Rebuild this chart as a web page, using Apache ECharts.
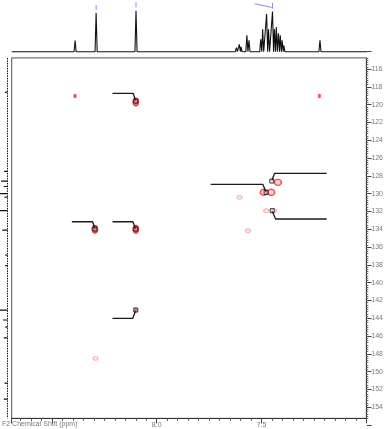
<!DOCTYPE html>
<html><head><meta charset="utf-8">
<script src="https://cdn.jsdelivr.net/npm/echarts@6/dist/echarts.min.js"></script>
<style>html,body{margin:0;padding:0;background:#fff}#c{width:386px;height:429px}</style>
</head><body><div id="c"></div>
<script>
// ---- data (ppm values) ----
const xTickLabels = ['8.0', '7.5'];
const yTickLabels = [116,118,120,122,124,126,128,130,132,134,136,138,140,142,144,146,148,150,152,154];
const xTitle = 'F2 Chemical Shift (ppm)';

// 1H spectrum peaks: [ppm, relative height]
const protonPeaks = [
  [8.390,0.27],[8.290,0.95],[8.100,1.00],
  [7.622,0.10],[7.608,0.18],[7.600,0.12],[7.572,0.40],[7.562,0.28],
  [7.506,0.30],[7.497,0.55],[7.478,0.92],[7.469,0.55],[7.450,0.98],
  [7.441,0.55],[7.432,0.60],[7.422,0.45],[7.413,0.40],[7.404,0.28],[7.396,0.15],
  [7.224,0.28]
];
// peak-label marker ticks above the 1H trace: [ppm1, h1, ppm2, h2]
const protonMarks = [
  [8.290,1.14,8.290,1.02],[8.100,1.21,8.100,1.08],[7.450,1.19,7.450,1.05],[7.535,1.17,7.454,1.08]
];
// 13C projection peaks: [ppm, relative intensity]
const carbonProjection = [
  [118.6,0.35],[127.5,0.45],[128.6,0.85],[129.2,0.5],[130.0,1.0],[130.4,0.4],
  [131.9,1.0],[134.1,0.7],[136.9,0.3],[138.1,0.3],[143.1,1.0],[144.2,0.6],
  [145.0,0.3],[146.2,0.5],[151.3,0.4],[153.1,0.5]
];
// cross peaks [δH, δC]
const strongPeaks = [[8.100,119.71],[8.295,134.01],[8.100,134.01]];
const ringPeaks = [[7.422,128.73],[7.489,129.85],[7.454,129.85]];
const weakPeaks = [[8.390,119.03],[7.224,119.03],[8.100,143.08]];
const faintPeaks = [[7.478,131.92],[7.441,131.92],[7.605,130.42],[7.565,134.17],[8.292,148.51]];
// assignment boxes [δH, δC]
const assignments = [[8.100,119.6],[8.295,133.98],[8.100,133.98],[8.100,143.08],[7.451,128.58],[7.478,129.85],[7.449,131.92]];
// assignment leader lines, each a list of [δH, δC]
const leaders = [
  [[8.211,118.73],[8.113,118.73],[8.100,119.6]],
  [[8.405,133.16],[8.306,133.16],[8.295,133.98]],
  [[8.211,133.16],[8.114,133.16],[8.100,133.98]],
  [[8.211,144.01],[8.114,144.01],[8.100,143.08]],
  [[7.189,127.72],[7.438,127.72],[7.451,128.58]],
  [[7.743,128.96],[7.494,128.96],[7.478,129.85]],
  [[7.189,132.85],[7.433,132.85],[7.449,131.96]]
];

// ---- build ----
const X_MIN = 7.0, X_MAX = 8.692, Y_MIN = 114.75, Y_MAX = 155.25;
const HW = 0.005;
const protonLine = [[X_MAX,0]];
protonPeaks.slice().sort((a,b)=>b[0]-a[0]).forEach(p=>{
  protonLine.push([p[0]+HW,0],[p[0],p[1]],[p[0]-HW,0]);
});
protonLine.push([X_MIN,0]);
const markLine = [];
protonMarks.forEach(m=>{ markLine.push([m[0],m[1]],[m[2],m[3]],'-'); });
const projLine = [];
carbonProjection.forEach(p=>{ projLine.push([0,p[0]],[p[1],p[0]],'-'); });
const leaderLine = [];
leaders.forEach(l=>{ l.forEach(pt=>leaderLine.push(pt)); leaderLine.push('-'); });

const FONT = 'Liberation Sans, Arial, sans-serif';
const LBL = '#7a7a7a';
const chart = echarts.init(document.getElementById('c'), null, {renderer:'canvas'});
chart.setOption({
  animation: false,
  backgroundColor: '#fff',
  grid: [
    {left:11.7, right:19, top:57.9, height:360.45, show:true, borderColor:'#555', borderWidth:1, backgroundColor:'transparent'},
    {left:11.7, right:19, top:0.45, height:51.25},
    {left:0, width:7.5, top:57.9, height:360.45},
    {left:11.7, right:19, top:51.2, height:373.8}
  ],
  xAxis: [
    {gridIndex:0, type:'value', min:X_MIN, max:X_MAX, inverse:true, interval:0.05, position:'bottom',
     axisLine:{show:true, lineStyle:{color:'#333', width:1}},
     axisTick:{show:true, length:2.5, lineStyle:{color:'#555'}},
     splitLine:{show:false},
     axisLabel:{margin:3, fontSize:7, color:LBL, fontFamily:FONT,
       formatter:v=>{const s=v.toFixed(1); return (Math.abs(v*10-Math.round(v*10))<1e-6 && xTickLabels.includes(s))?s:'';}}},
    {gridIndex:0, type:'value', min:X_MIN, max:X_MAX, inverse:true, interval:0.5, position:'bottom',
     axisLine:{show:false}, axisTick:{show:true, length:5, lineStyle:{color:'#444'}},
     axisLabel:{show:false}, splitLine:{show:false}},
    {gridIndex:1, type:'value', min:X_MIN, max:X_MAX, inverse:true, show:false},
    {gridIndex:2, type:'value', min:0, max:1, inverse:true, show:false},
    {gridIndex:3, type:'value', min:X_MIN, max:X_MAX, inverse:true, show:false}
  ],
  yAxis: [
    {gridIndex:0, type:'value', min:Y_MIN, max:Y_MAX, inverse:true, interval:0.25, position:'right',
     axisLine:{show:true, lineStyle:{color:'#333'}},
     axisTick:{show:true, length:2, lineStyle:{color:'#666'}},
     splitLine:{show:false},
     axisLabel:{margin:5, fontSize:7, color:LBL, fontFamily:FONT,
       formatter:v=>{const r=Math.round(v); return (Math.abs(v-r)<1e-6 && yTickLabels.includes(r))?String(r):'';}}},
    {gridIndex:1, type:'value', min:0, max:1.25, show:false},
    {gridIndex:2, type:'value', min:Y_MIN, max:Y_MAX, inverse:true, show:false},
    {gridIndex:3, type:'value', min:114, max:156, inverse:true, interval:2, position:'right',
     axisLine:{show:false}, axisTick:{show:true, length:4.5, lineStyle:{color:'#444'}},
     axisLabel:{show:false}, splitLine:{show:false}}
  ],
  graphic: [
    {type:'text', left:2, top:420.5, style:{text:xTitle, fontSize:7, fill:LBL, fontFamily:FONT}}
  ],
  series: [
    {type:'line', xAxisIndex:2, yAxisIndex:1, data:protonLine, showSymbol:false, symbol:'none', clip:false,
     lineStyle:{color:'#111', width:1.1}, z:2},
    {type:'line', xAxisIndex:2, yAxisIndex:1, data:markLine, showSymbol:false, symbol:'none', clip:false,
     connectNulls:false, lineStyle:{color:'#8c8ce0', width:1}, z:2},
    {type:'line', xAxisIndex:3, yAxisIndex:2, data:[[0,Y_MIN],[0,Y_MAX]], showSymbol:false, symbol:'none', clip:false,
     lineStyle:{color:'#111', width:1, type:[1.5,1]}, z:2},
    {type:'line', xAxisIndex:3, yAxisIndex:2, data:projLine, showSymbol:false, symbol:'none', clip:false,
     connectNulls:false, lineStyle:{color:'#111', width:1.2}, z:2},
    {type:'scatter', xAxisIndex:0, yAxisIndex:0, data:faintPeaks, symbol:'circle', symbolSize:[5,4],
     itemStyle:{color:'rgba(255,200,200,0.6)', borderColor:'#f09a9a', borderWidth:1}, z:3},
    {type:'scatter', xAxisIndex:0, yAxisIndex:0, data:weakPeaks, symbol:'circle', symbolSize:[3,4],
     itemStyle:{color:'#f03a3a', borderColor:'#e22', borderWidth:0.5}, z:3},
    {type:'scatter', xAxisIndex:0, yAxisIndex:0, data:strongPeaks, symbol:'circle', symbolSize:[6,8],
     itemStyle:{color:'#f23c3c', borderColor:'#d41c1c', borderWidth:1}, z:3},
    {type:'scatter', xAxisIndex:0, yAxisIndex:0, data:ringPeaks, symbol:'circle', symbolSize:[7,6],
     itemStyle:{color:'rgba(255,150,150,0.55)', borderColor:'#ea3030', borderWidth:1.5}, z:3},
    {type:'line', xAxisIndex:0, yAxisIndex:0, data:leaderLine, showSymbol:false, symbol:'none',
     connectNulls:false, lineStyle:{color:'#1a1a1a', width:1.3}, z:4},
    {type:'scatter', xAxisIndex:0, yAxisIndex:0, data:assignments, symbol:'rect', symbolSize:4,
     itemStyle:{color:'rgba(255,255,255,0.35)', borderColor:'#000', borderWidth:1}, z:5}
  ]
});
</script>
</body></html>
